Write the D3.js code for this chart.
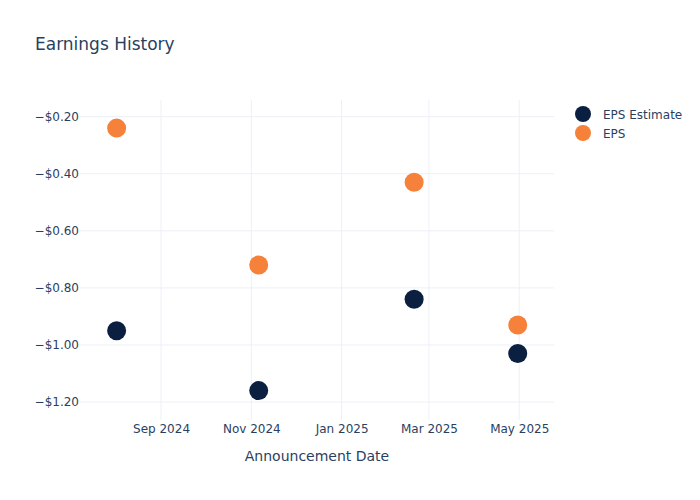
<!DOCTYPE html>
<html>
<head>
<meta charset="utf-8">
<script src="https://cdn.jsdelivr.net/npm/d3@7"></script>
<style>
  body { margin: 0; background: #fff; }
  text { font-family: "DejaVu Sans", sans-serif; fill: #2a3f5f; }
</style>
</head>
<body>
<div id="chart"></div>
<script>
"use strict";

// announcement dates and values
var dates = ["2024-08-02", "2024-11-06", "2025-02-19", "2025-04-30"];
var epsEstimate = [-0.95, -1.16, -0.84, -1.03];
var eps = [-0.24, -0.72, -0.43, -0.93];
var yTicks = [-0.2, -0.4, -0.6, -0.8, -1.0, -1.2];
var xTicks = ["2024-09-01", "2024-11-01", "2025-01-01", "2025-03-01", "2025-05-01"];

var series = [
    {name: "EPS Estimate", values: epsEstimate, color: "#0b1f40"},
    {name: "EPS", values: eps, color: "#f5813a"}
];

var W = 700, H = 500;
var margin = {top: 100, left: 80, right: 146, bottom: 80};
var width = W - margin.left - margin.right;
var height = H - margin.top - margin.bottom;
var parse = d3.utcParse("%Y-%m-%d");
var fontFam = "'DejaVu Sans', sans-serif";

var svg = d3.select("#chart")
    .append("svg")
    .attr("width", W)
    .attr("height", H);

var g = svg.append("g")
    .attr("transform", "translate(" + margin.left + "," + margin.top + ")");

var x = d3.scaleUtc()
    .domain([new Date(Date.UTC(2024, 6, 8, 6)), new Date(Date.UTC(2025, 4, 24, 12))])
    .range([0, width]);

var y = d3.scaleLinear()
    .domain([-1.263, -0.1415])
    .range([height, 0]);

// grid
g.append("g").selectAll("line")
    .data(xTicks)
    .enter().append("line")
    .attr("x1", d => x(parse(d))).attr("x2", d => x(parse(d)))
    .attr("y1", 0).attr("y2", height)
    .attr("stroke", "#ebf0f8").attr("stroke-width", 1);

g.append("g").selectAll("line")
    .data(yTicks)
    .enter().append("line")
    .attr("x1", 0).attr("x2", width)
    .attr("y1", d => y(d)).attr("y2", d => y(d))
    .attr("stroke", "#ebf0f8").attr("stroke-width", 1);

// axes (labels only, no domain lines)
var fmtY = d => "\u2212$" + Math.abs(d).toFixed(2);
var yAxis = g.append("g")
    .call(d3.axisLeft(y).tickValues(yTicks).tickFormat(fmtY).tickSize(0).tickPadding(1));
yAxis.select(".domain").remove();
yAxis.selectAll("text").style("font-size", "12px").attr("fill", "#2a3f5f")
    .style("font-family", fontFam);

var xAxis = g.append("g")
    .attr("transform", "translate(0," + height + ")")
    .call(d3.axisBottom(x).tickValues(xTicks.map(parse)).tickFormat(d3.utcFormat("%b %Y")).tickSize(0).tickPadding(4));
xAxis.select(".domain").remove();
xAxis.selectAll("text").style("font-size", "12px").attr("fill", "#2a3f5f")
    .style("font-family", fontFam);

// points
series.forEach(function (s) {
    g.append("g").selectAll("circle")
        .data(s.values)
        .enter().append("circle")
        .attr("cx", (d, i) => x(parse(dates[i])))
        .attr("cy", d => y(d))
        .attr("r", 9.5)
        .attr("fill", s.color);
});

// title
svg.append("text")
    .attr("x", 35).attr("y", 50)
    .style("font-size", "17px")
    .text("Earnings History");

// x axis title
svg.append("text")
    .attr("x", margin.left + width / 2).attr("y", 461)
    .attr("text-anchor", "middle")
    .style("font-size", "14px")
    .text("Announcement Date");

// legend
var legend = svg.append("g").attr("transform", "translate(583,114)");
series.forEach(function (s, i) {
    var row = legend.append("g").attr("transform", "translate(0," + (i * 19) + ")");
    row.append("circle").attr("r", 8).attr("fill", s.color);
    row.append("text").attr("x", 20).attr("y", 4.5)
        .style("font-size", "12px")
        .text(s.name);
});
</script>
</body>
</html>
